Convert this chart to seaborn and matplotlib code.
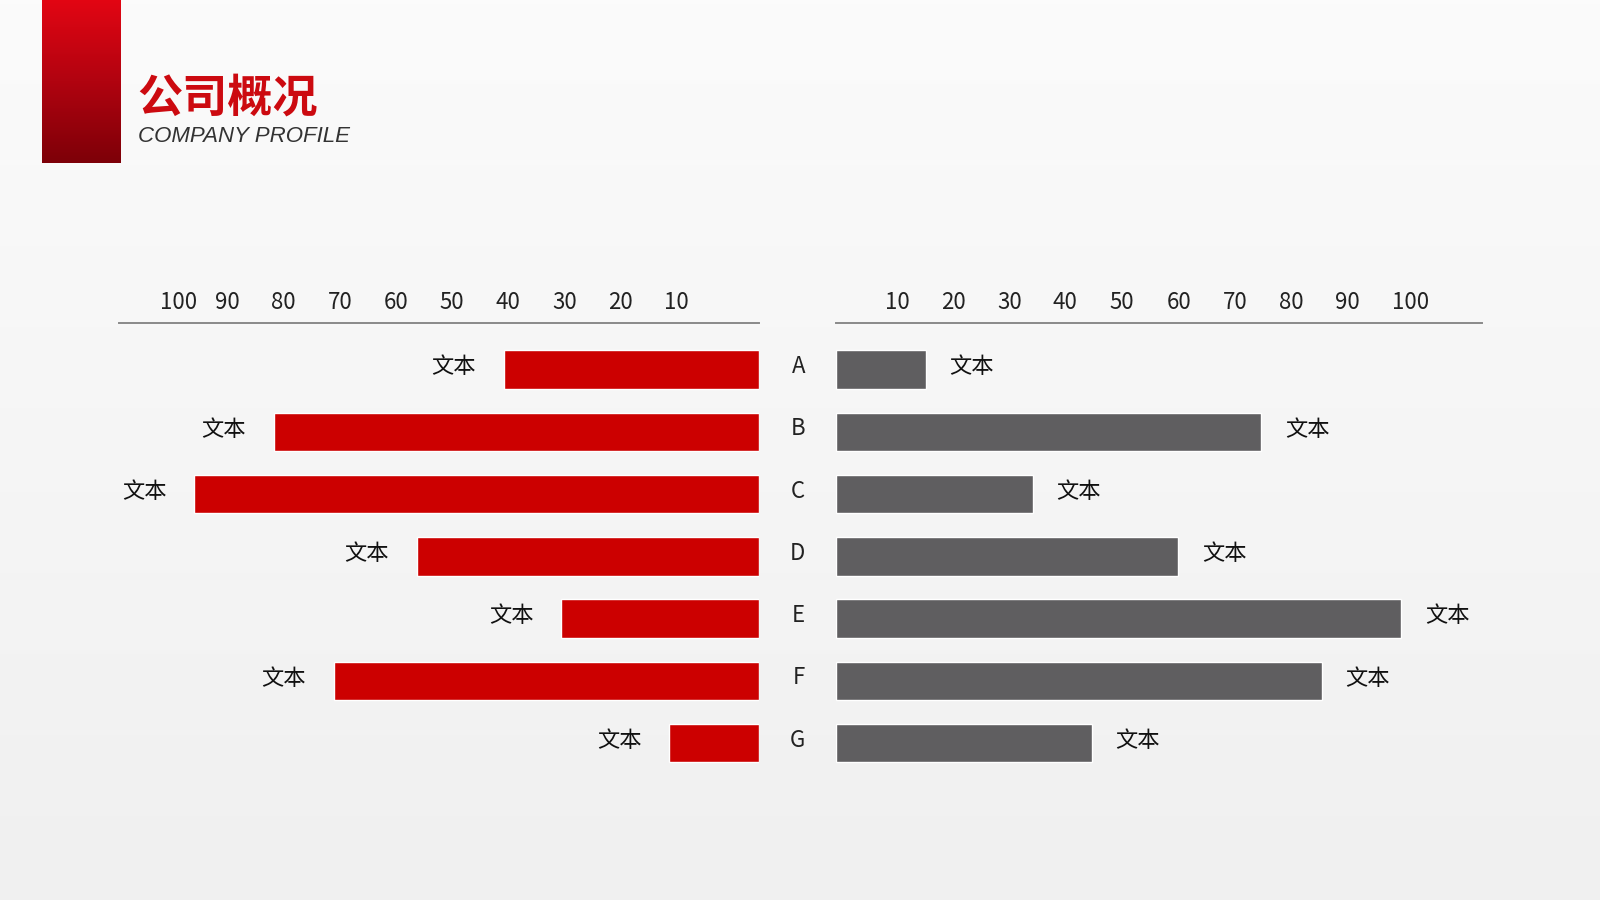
import numpy as np
import seaborn as sns
import matplotlib.pyplot as plt
from matplotlib.colors import LinearSegmentedColormap
from matplotlib.transforms import ScaledTranslation

# ---------------------------------------------------------
# DATA
# ---------------------------------------------------------

categories = ["A", "B", "C", "D", "E", "F", "G"]
left_values = [45.5, 86.5, 100.7, 61, 35.3, 75.8, 16]
right_values = [16, 75.8, 35.1, 61, 100.7, 86.5, 45.6]
bar_label = "文本"

tick_labels = ["10", "20", "30", "40", "50", "60", "70", "80", "90", "100"]
left_tick_pos = [14.7, 24.7, 34.7, 44.7, 54.7, 64.7, 74.7, 84.7, 94.7, 103.5]
right_tick_pos = [10.9, 20.9, 30.9, 40.9, 50.9, 61.1, 71.1, 81.1, 91.1, 102.4]

title_cn = "公司概况"
title_en = "COMPANY PROFILE"

RED = "#cc0000"
GRAY = "#5f5e60"
LINE = "#8a8a8a"
FONTS = ["Noto Sans CJK SC", "DejaVu Sans"]

# ---------------------------------------------------------
# FIGURE
# ---------------------------------------------------------

sns.set_style("white")
plt.rcParams["font.family"] = FONTS

fig = plt.figure(figsize=(16, 9), dpi=100)

# background
bg = fig.add_axes([0, 0, 1, 1], zorder=-5)
grad = np.linspace(0, 1, 256).reshape(-1, 1)
bg_cmap = LinearSegmentedColormap.from_list("bg", ["#fbfbfb", "#f0f0f0"])
bg.imshow(grad, aspect="auto", cmap=bg_cmap, extent=[0, 1, 0, 1])
bg.axis("off")

# red header block
block = fig.add_axes([0.0261, 0.8186, 0.0491, 0.1814], zorder=-1)
red_cmap = LinearSegmentedColormap.from_list("blk", ["#e30613", "#b10310", "#7d0008"])
block.imshow(grad, aspect="auto", cmap=red_cmap, extent=[0, 1, 0, 1])
block.axis("off")

fig.text(0.0855, 0.8900, title_cn, fontsize=32.5, fontweight="bold",
         color="#cc0a10", va="center", ha="left")
fig.text(0.0861, 0.8480, title_en, fontsize=16, style="italic",
         family=["Liberation Sans", "DejaVu Sans"], color="#333333",
         va="center", ha="left")


def style_axis(ax):
    ax.set_facecolor("none")
    for side in ["left", "right", "bottom"]:
        ax.spines[side].set_visible(False)
    ax.spines["top"].set_color(LINE)
    ax.spines["top"].set_linewidth(1.4)
    ax.xaxis.tick_top()
    ax.tick_params(axis="x", length=0, pad=7, labelsize=16, labelcolor="#222222")
    ax.set_xlabel("")
    ax.set_ylabel("")
    ax.set_ylim(6.52, -0.74)


# left chart
ax1 = fig.add_axes([0.0746, 0.1383, 0.3999, 0.5023])
sns.barplot(x=left_values, y=categories, color=RED, width=0.62,
            saturation=1, ax=ax1)
ax1.set_xlim(114, 0)
ax1.set_xticks(left_tick_pos, tick_labels)
ax1.set_yticks([])
style_axis(ax1)
for i, v in enumerate(left_values):
    ax1.annotate(bar_label, (v, i), xytext=(-20, 2), textcoords="offset points",
                 ha="right", va="center", fontsize=16, color="#111111")

# right chart
ax2 = fig.add_axes([0.5223, 0.1383, 0.4037, 0.5023])
sns.barplot(x=right_values, y=categories, color=GRAY, width=0.62,
            saturation=1, ax=ax2)
ax2.set_xlim(0, 115)
ax2.set_xticks(right_tick_pos, tick_labels)
style_axis(ax2)
ax2.tick_params(axis="y", length=0, pad=22, labelsize=16, labelcolor="#222222")
shift_up = ScaledTranslation(0, 4 / 72, fig.dpi_scale_trans)
for lbl in ax2.get_yticklabels():
    lbl.set_transform(lbl.get_transform() + shift_up)
for i, v in enumerate(right_values):
    ax2.annotate(bar_label, (v, i), xytext=(17, 2), textcoords="offset points",
                 ha="left", va="center", fontsize=16, color="#111111")

fig.savefig("out.png", dpi=100)
